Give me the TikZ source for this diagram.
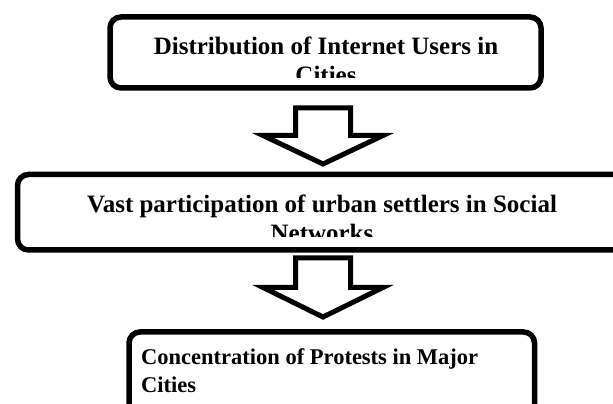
\documentclass[tikz,border=0pt]{standalone}
\usepackage{fontspec}
\setmainfont{Liberation Serif}
\usetikzlibrary{calc}
\begin{document}
\begin{tikzpicture}[x=1pt,y=1pt,
  box/.style={draw, line width=5.5pt, rounded corners=11pt, inner sep=0pt, outer sep=0pt},
  lbl/.style={font=\fontsize{25}{28.5}\selectfont\bfseries, inner sep=0pt, anchor=base},
  lblw/.style={font=\fontsize{22.5}{27}\selectfont\bfseries, inner sep=0pt, anchor=base west},
  blockarrow/.style={draw, line width=5pt, miter limit=10, fill=white}]
\useasboundingbox (0,0) rectangle (613,404);
\begin{scope}
\clip (0,0) rectangle (613,404);
\node[box, minimum width=431pt, minimum height=71pt] (b1) at (325.5,351.5) {};
\node[box, minimum width=615pt, minimum height=75.5pt] (b2) at (325,191.75) {};
\node[box, minimum width=405.5pt, minimum height=87pt] (b3) at (331.75,28.5) {};
\end{scope}
% texts
\node[lbl] (t1a) at (326,349) {Distribution of Internet Users in};
\begin{scope}
\clip (0,326) rectangle (613,404);
\node[lbl] (t1b) at (326,320.5) {Cities};
\end{scope}
\node[lbl] (t2a) at (322,191) {Vast participation of urban settlers in Social};
\begin{scope}
\clip (0,167) rectangle (613,404);
\node[lbl] (t2b) at (322,162.5) {Networks};
\end{scope}
\node[lblw] (t3a) at (141,39) {Concentration of Protests in Major};
\node[lblw] (t3b) at (141,11) {Cities};
% block arrows
\coordinate (a1) at (323,296);
\coordinate (a2) at (323,146);
\draw[blockarrow] ($(a1)+(-27.5,0)$) -- ($(a1)+(27.5,0)$) -- ($(a1)+(27.5,-27.5)$)
  -- ($(a1)+(60,-27.5)$) -- ($(a1)+(0,-56)$) -- ($(a1)+(-60,-27.5)$)
  -- ($(a1)+(-27.5,-27.5)$) -- cycle;
\draw[blockarrow] ($(a2)+(-27.5,0)$) -- ($(a2)+(27.5,0)$) -- ($(a2)+(27.5,-29.5)$)
  -- ($(a2)+(60,-29.5)$) -- ($(a2)+(0,-59)$) -- ($(a2)+(-60,-29.5)$)
  -- ($(a2)+(-27.5,-29.5)$) -- cycle;
\end{tikzpicture}
\end{document}
